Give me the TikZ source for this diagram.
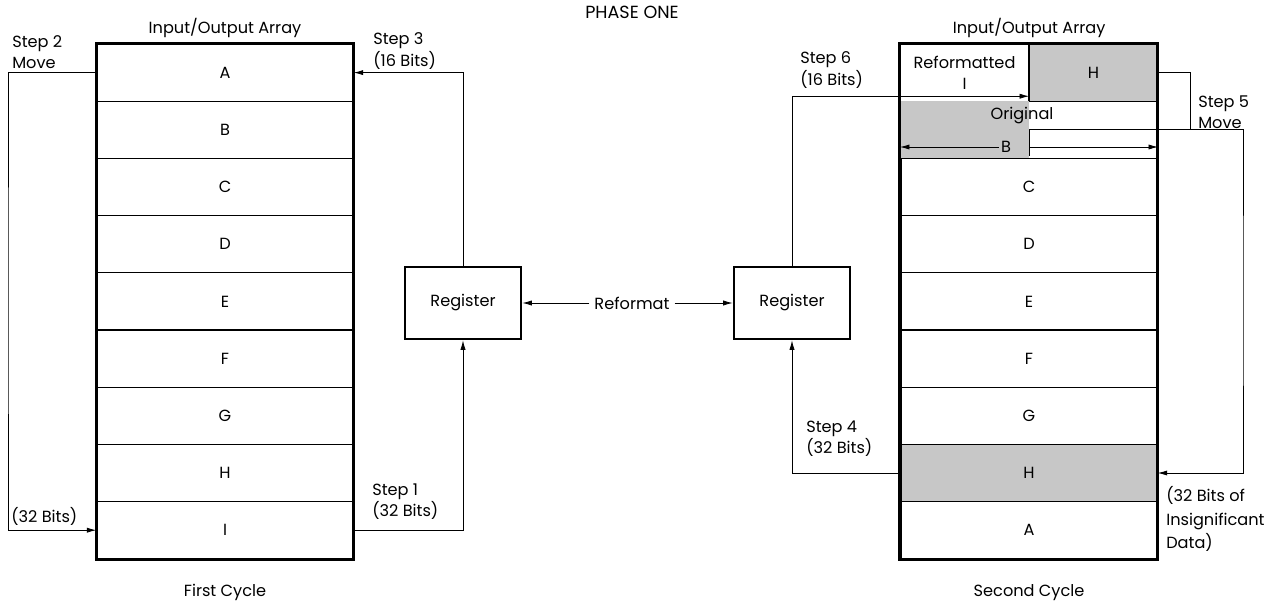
\documentclass[tikz,border=0pt]{standalone}
\usepackage{fontspec}
\setmainfont{Poppins}
\usetikzlibrary{arrows.meta,positioning}

\begin{document}
\begin{tikzpicture}[x=0.25mm, y=-0.25mm, font=\fontsize{11.5}{15}\selectfont,
    cell/.style={draw, line width=0.9pt, minimum width=64mm, minimum height=14.3mm, inner sep=0pt},
    halfcell/.style={cell, minimum width=32mm},
    shadeg/.style={fill=black!22},
    frame/.style={line width=2pt},
    reg/.style={draw, line width=1.8pt, minimum width=29mm, minimum height=18mm},
    conn/.style={line width=0.6pt, -{Latex[length=2.4mm,width=1.3mm]}},
    wire/.style={line width=0.6pt},
    lbl/.style={align=left, anchor=west, inner sep=0pt}]
    \useasboundingbox (0,0) rectangle (1274,608);

    % Title
    \node[font=\fontsize{12.5}{15}\selectfont] (phase) at (632,12) {PHASE ONE};

    % First cycle array
    \node[cell] (a1) at (225,72.6) {A};
    \node[cell] (b1) at (225,129.8) {B};
    \node[cell] (c1) at (225,187) {C};
    \node[cell] (d1) at (225,244.2) {D};
    \node[cell] (e1) at (225,301.4) {E};
    \node[cell] (f1) at (225,358.6) {F};
    \node[cell] (g1) at (225,415.8) {G};
    \node[cell] (h1) at (225,473) {H};
    \node[cell] (i1) at (225,530.2) {I};
    \draw[frame] (a1.north west) rectangle (i1.south east);
    \node[above=0.3mm of a1] (ioL) {Input/Output Array};
    \node[below=5mm of i1] (cycL) {First Cycle};

    % Second cycle array
    \node[halfcell, align=center] (r1a) at (964.5,72.6) {Reformatted\\I};
    \node[halfcell, shadeg] (r1b) at (1093.5,72.6) {H};
    \node[halfcell, shadeg, draw=none] (r2a) at (964.5,129.8) {};
    \node[halfcell, draw=none] (r2b) at (1093.5,129.8) {};
    \node[cell] (c2) at (1029,187) {C};
    \node[cell] (d2) at (1029,244.2) {D};
    \node[cell] (e2) at (1029,301.4) {E};
    \node[cell] (f2) at (1029,358.6) {F};
    \node[cell] (g2) at (1029,415.8) {G};
    \node[cell, shadeg] (h2) at (1029,473) {H};
    \node[cell] (a2) at (1029,530.2) {A};
    \draw[frame] (r1a.north west) rectangle (a2.south east);
    \node[above=0.3mm of r1a.north east] (ioR) {Input/Output Array};
    \node[below=5mm of a2] (cycR) {Second Cycle};

    % Original B, split into two halves
    \node[inner sep=0pt] (orig) at (1022,116) {Original};
    \node[inner sep=1.5pt] (blbl) at (1006,147) {B};
    \draw[conn] (blbl.west) -- (blbl.west -| r2a.west);
    \draw[conn] (r2a.east |- blbl) -- (blbl -| r2b.east);
    \draw[wire] (r2a.east) -- ([yshift=0.8mm]r2a.south east);

    % Registers
    \node[reg] (regL) at (463,303) {Register};
    \node[reg] (regR) at (792,303) {Register};
    \node[inner sep=1.2mm] (refmt) at (632,303) {Reformat};
    \draw[conn] (refmt) -- (regL);
    \draw[conn] (refmt) -- (regR);

    % Steps 1 to 3
    \draw[conn] (i1.east) -| (regL.south);
    \coordinate (loopL) at (8,300);
    \draw[conn] (a1.west) -| (loopL) |- (i1.west);
    \draw[conn] (regL.north) |- (a1.east);
    \node[lbl] (s1lbl) at (372,502) {Step 1\\(32 Bits)};
    \node[lbl] (s2lbl) at (12,52) {Step 2\\Move};
    \node[lbl] (s2bits) at (11,516) {(32 Bits)};
    \node[lbl] (s3lbl) at (373,51) {Step 3\\(16 Bits)};

    % Steps 4 to 6
    \draw[conn] (h2.west) -| (regR.south);
    \coordinate (loopR1) at (1190,129.8);
    \draw[wire] (r1b.east) -| (loopR1);
    \coordinate (loopR2) at (1243,300);
    \draw[conn] (r2a.east) -| (loopR2) |- (h2.east);
    \draw[conn] (regR.north) |- ([yshift=1.4mm]r1a.south east);
    \node[lbl] (s4lbl) at (806,439) {Step 4\\(32 Bits)};
    \node[lbl, font=\fontsize{11.5}{16.5}\selectfont] (s4note) at (1166,519) {(32 Bits of\\Insignificant\\Data)};
    \node[lbl] (s5lbl) at (1198,112) {Step 5\\Move};
    \node[lbl] (s6lbl) at (800,70) {Step 6\\(16 Bits)};
\end{tikzpicture}
\end{document}
